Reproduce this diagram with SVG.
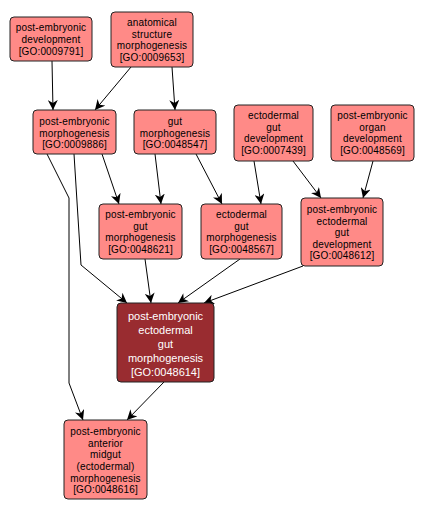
<svg xmlns="http://www.w3.org/2000/svg" width="423" height="512" viewBox="0 0 423 512">
<style>
.n rect{fill:#ff8a87;stroke:#222;stroke-width:1}
.n text{font-family:"Liberation Sans",Arial,sans-serif;font-size:10px;letter-spacing:0.15px;text-anchor:middle;fill:#000}
.d rect{fill:#992c30;stroke:#222;stroke-width:1}
.d text{font-family:"Liberation Sans",Arial,sans-serif;font-size:11px;text-anchor:middle;fill:#fff}
#edges path{fill:none;stroke:#000;stroke-width:1;marker-end:url(#a)}
</style>
<defs>
<marker id="a" viewBox="0 0 10 10" refX="10" refY="5" markerWidth="10" markerHeight="10" markerUnits="userSpaceOnUse" orient="auto">
<path d="M0,0 L10,5 L0,10 L3,5 Z" fill="#000"/>
</marker>
</defs>
<rect width="423" height="512" fill="#fff"/>
<g id="edges">
<path d="M52,61 L53,110"/>
<path d="M131,67 L95,110"/>
<path d="M172,67 L175,110"/>
<path d="M47,154 L69,198 L69,383 L83,420"/>
<path d="M74,154 L81,265 L127,303"/>
<path d="M102,154 L119,204"/>
<path d="M155,154 L161,204"/>
<path d="M196,154 L222,204"/>
<path d="M254,161 L261,204"/>
<path d="M293,161 L321,198"/>
<path d="M373,161 L363,198"/>
<path d="M145,259 L151,303"/>
<path d="M240,259 L178,303"/>
<path d="M303,266 L204,303"/>
<path d="M164,382 L127,420"/>
</g>
<g id="n1" class="n"><rect x="10" y="17" width="82" height="44" rx="4"/>
<text x="51" y="31">post-embryonic</text><text x="51" y="43">development</text><text x="51" y="55">[GO:0009791]</text></g>
<g id="n2" class="n"><rect x="111" y="12" width="82" height="55" rx="4"/>
<text x="152" y="25.5">anatomical</text><text x="152" y="37.5">structure</text><text x="152" y="49">morphogenesis</text><text x="152" y="60.5">[GO:0009653]</text></g>
<g id="n3" class="n"><rect x="33" y="110" width="83" height="44" rx="4"/>
<text x="74.5" y="125">post-embryonic</text><text x="74.5" y="136.5">morphogenesis</text><text x="74.5" y="148">[GO:0009886]</text></g>
<g id="n4" class="n"><rect x="134" y="110" width="82" height="44" rx="4"/>
<text x="175" y="125">gut</text><text x="175" y="136.5">morphogenesis</text><text x="175" y="148">[GO:0048547]</text></g>
<g id="n5" class="n"><rect x="234" y="105" width="79" height="56" rx="4"/>
<text x="273.5" y="119">ectodermal</text><text x="273.5" y="130.5">gut</text><text x="273.5" y="142">development</text><text x="273.5" y="154">[GO:0007439]</text></g>
<g id="n6" class="n"><rect x="331" y="105" width="83" height="56" rx="4"/>
<text x="372.5" y="119">post-embryonic</text><text x="372.5" y="130.5">organ</text><text x="372.5" y="142">development</text><text x="372.5" y="154">[GO:0048569]</text></g>
<g id="n7" class="n"><rect x="301" y="198" width="82" height="68" rx="4"/>
<text x="342" y="213">post-embryonic</text><text x="342" y="224.5">ectodermal</text><text x="342" y="236">gut</text><text x="342" y="247.5">development</text><text x="342" y="259">[GO:0048612]</text></g>
<g id="n8" class="n"><rect x="201" y="204" width="81" height="55" rx="4"/>
<text x="241.5" y="218">ectodermal</text><text x="241.5" y="229.5">gut</text><text x="241.5" y="241">morphogenesis</text><text x="241.5" y="252.5">[GO:0048567]</text></g>
<g id="n9" class="n"><rect x="99" y="204" width="83" height="55" rx="4"/>
<text x="140.5" y="218">post-embryonic</text><text x="140.5" y="229.5">gut</text><text x="140.5" y="241">morphogenesis</text><text x="140.5" y="252.5">[GO:0048621]</text></g>
<g id="n10" class="d"><rect x="117" y="303" width="97" height="79" rx="4"/>
<text x="165.5" y="320">post-embryonic</text><text x="165.5" y="334">ectodermal</text><text x="165.5" y="348">gut</text><text x="165.5" y="362">morphogenesis</text><text x="165.5" y="376">[GO:0048614]</text></g>
<g id="n11" class="n"><rect x="64" y="420" width="83" height="79" rx="4"/>
<text x="105.5" y="435">post-embryonic</text><text x="105.5" y="446.5">anterior</text><text x="105.5" y="458">midgut</text><text x="105.5" y="469.5">(ectodermal)</text><text x="105.5" y="481.5">morphogenesis</text><text x="105.5" y="493">[GO:0048616]</text></g>
</svg>
